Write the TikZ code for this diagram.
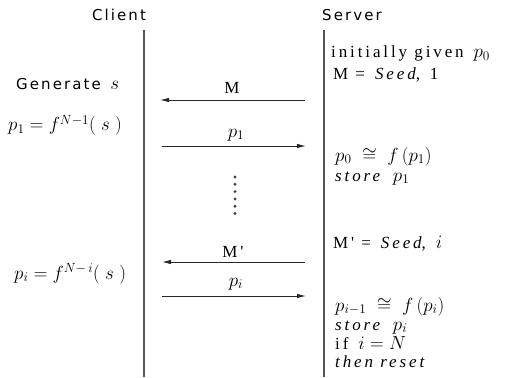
\RequirePackage{fix-cm}
\documentclass[tikz,border=0pt]{standalone}
\usepackage{fontspec}
\usetikzlibrary{arrows.meta}
\newfontfamily\headfont{DejaVu Sans}[LetterSpace=14]
\newfontfamily\notefont{Liberation Serif}[LetterSpace=17]
\definecolor{lifeline}{RGB}{85,85,85}
\newcommand\symb[1]{{\fontsize{19}{21}\selectfont$#1$}}
\tikzset{
  party/.style={font=\fontsize{15}{17}\selectfont\headfont, inner sep=0pt, anchor=base},
  lifeline/.style={draw=lifeline, line width=1.6pt},
  msg/.style={draw=black!85, line width=0.9pt, -{Latex[length=9pt,width=4.5pt]}},
  msglabel/.style={font=\fontsize{17}{19}\selectfont\notefont, inner sep=0pt, anchor=base},
  note/.style={font=\fontsize{17}{19}\selectfont\notefont, anchor=base west, inner sep=0pt},
  formula/.style={font=\fontsize{19}{21}\selectfont, anchor=base west, inner sep=0pt},
  dot/.style={fill=black!75}
}
\begin{document}
\begin{tikzpicture}[x=1pt,y=-1pt]
\useasboundingbox (0,0) rectangle (508,377);

% participants and lifelines
\node[party] (client) at (119,21) {Client};
\node[party] (server) at (352,21) {Server};
\coordinate (ctop) at (144,30);
\coordinate (cbot) at (144,377);
\coordinate (stop) at (324,30);
\coordinate (sbot) at (324,377);
\draw[lifeline] (ctop) -- (cbot);
\draw[lifeline] (stop) -- (sbot);

% client side notes
\node[party, anchor=base west] (gen) at (16,90) {Generate \,\symb{s}};
\node[formula] (p1c) at (8,131) {$p_1 = f^{N-1}(\;s\;)$};
\node[formula] (pic) at (14,279) {$p_i = f^{N-\,i}(\;s\;)$};

% server side notes
\node[note] (init) at (331,58) {initially given \,\symb{p_0}};
\node[note] (seed1) at (333,80) {M = \,\textit{Seed},\, 1};
\node[formula] (chk1) at (335,161) {$p_0\;\cong\; f\,(p_1)$};
\node[note] (st1) at (335,181) {\textit{store} \,\symb{p_1}};
\node[note] (seedi) at (333,248) {M' = \,\textit{Seed},\, \symb{i}};
\node[formula] (chki) at (335,311) {$p_{i-1}\;\cong\; f\,(p_i)$};
\node[note] (sti) at (335,330) {\textit{store} \,\symb{p_i}};
\node[note] (ifn) at (335,349) {if \,\symb{i = N}};
\node[note] (rst) at (335,367) {\textit{then reset}};

% messages
\coordinate (m1s) at (305,100);
\coordinate (m1c) at (160,100);
\coordinate (a1c) at (162,146);
\coordinate (a1s) at (306,146);
\coordinate (m2s) at (305,262);
\coordinate (m2c) at (162,262);
\coordinate (a2c) at (162,296);
\coordinate (a2s) at (306,296);
\draw[msg] (m1s) -- (m1c);
\draw[msg] (a1c) -- (a1s);
\draw[msg] (m2s) -- (m2c);
\draw[msg] (a2c) -- (a2s);
\node[msglabel] (lm1) at (232,94) {M};
\node[msglabel] (la1) at (236,137) {\symb{p_1}};
\node[msglabel] (lm2) at (233,257) {M'};
\node[msglabel] (la2) at (236,286) {\symb{p_i}};

% elided rounds
\foreach \k in {0,...,5}
  \fill[dot] (235,177+7.3*\k) circle (1.6pt);
\end{tikzpicture}
\end{document}
